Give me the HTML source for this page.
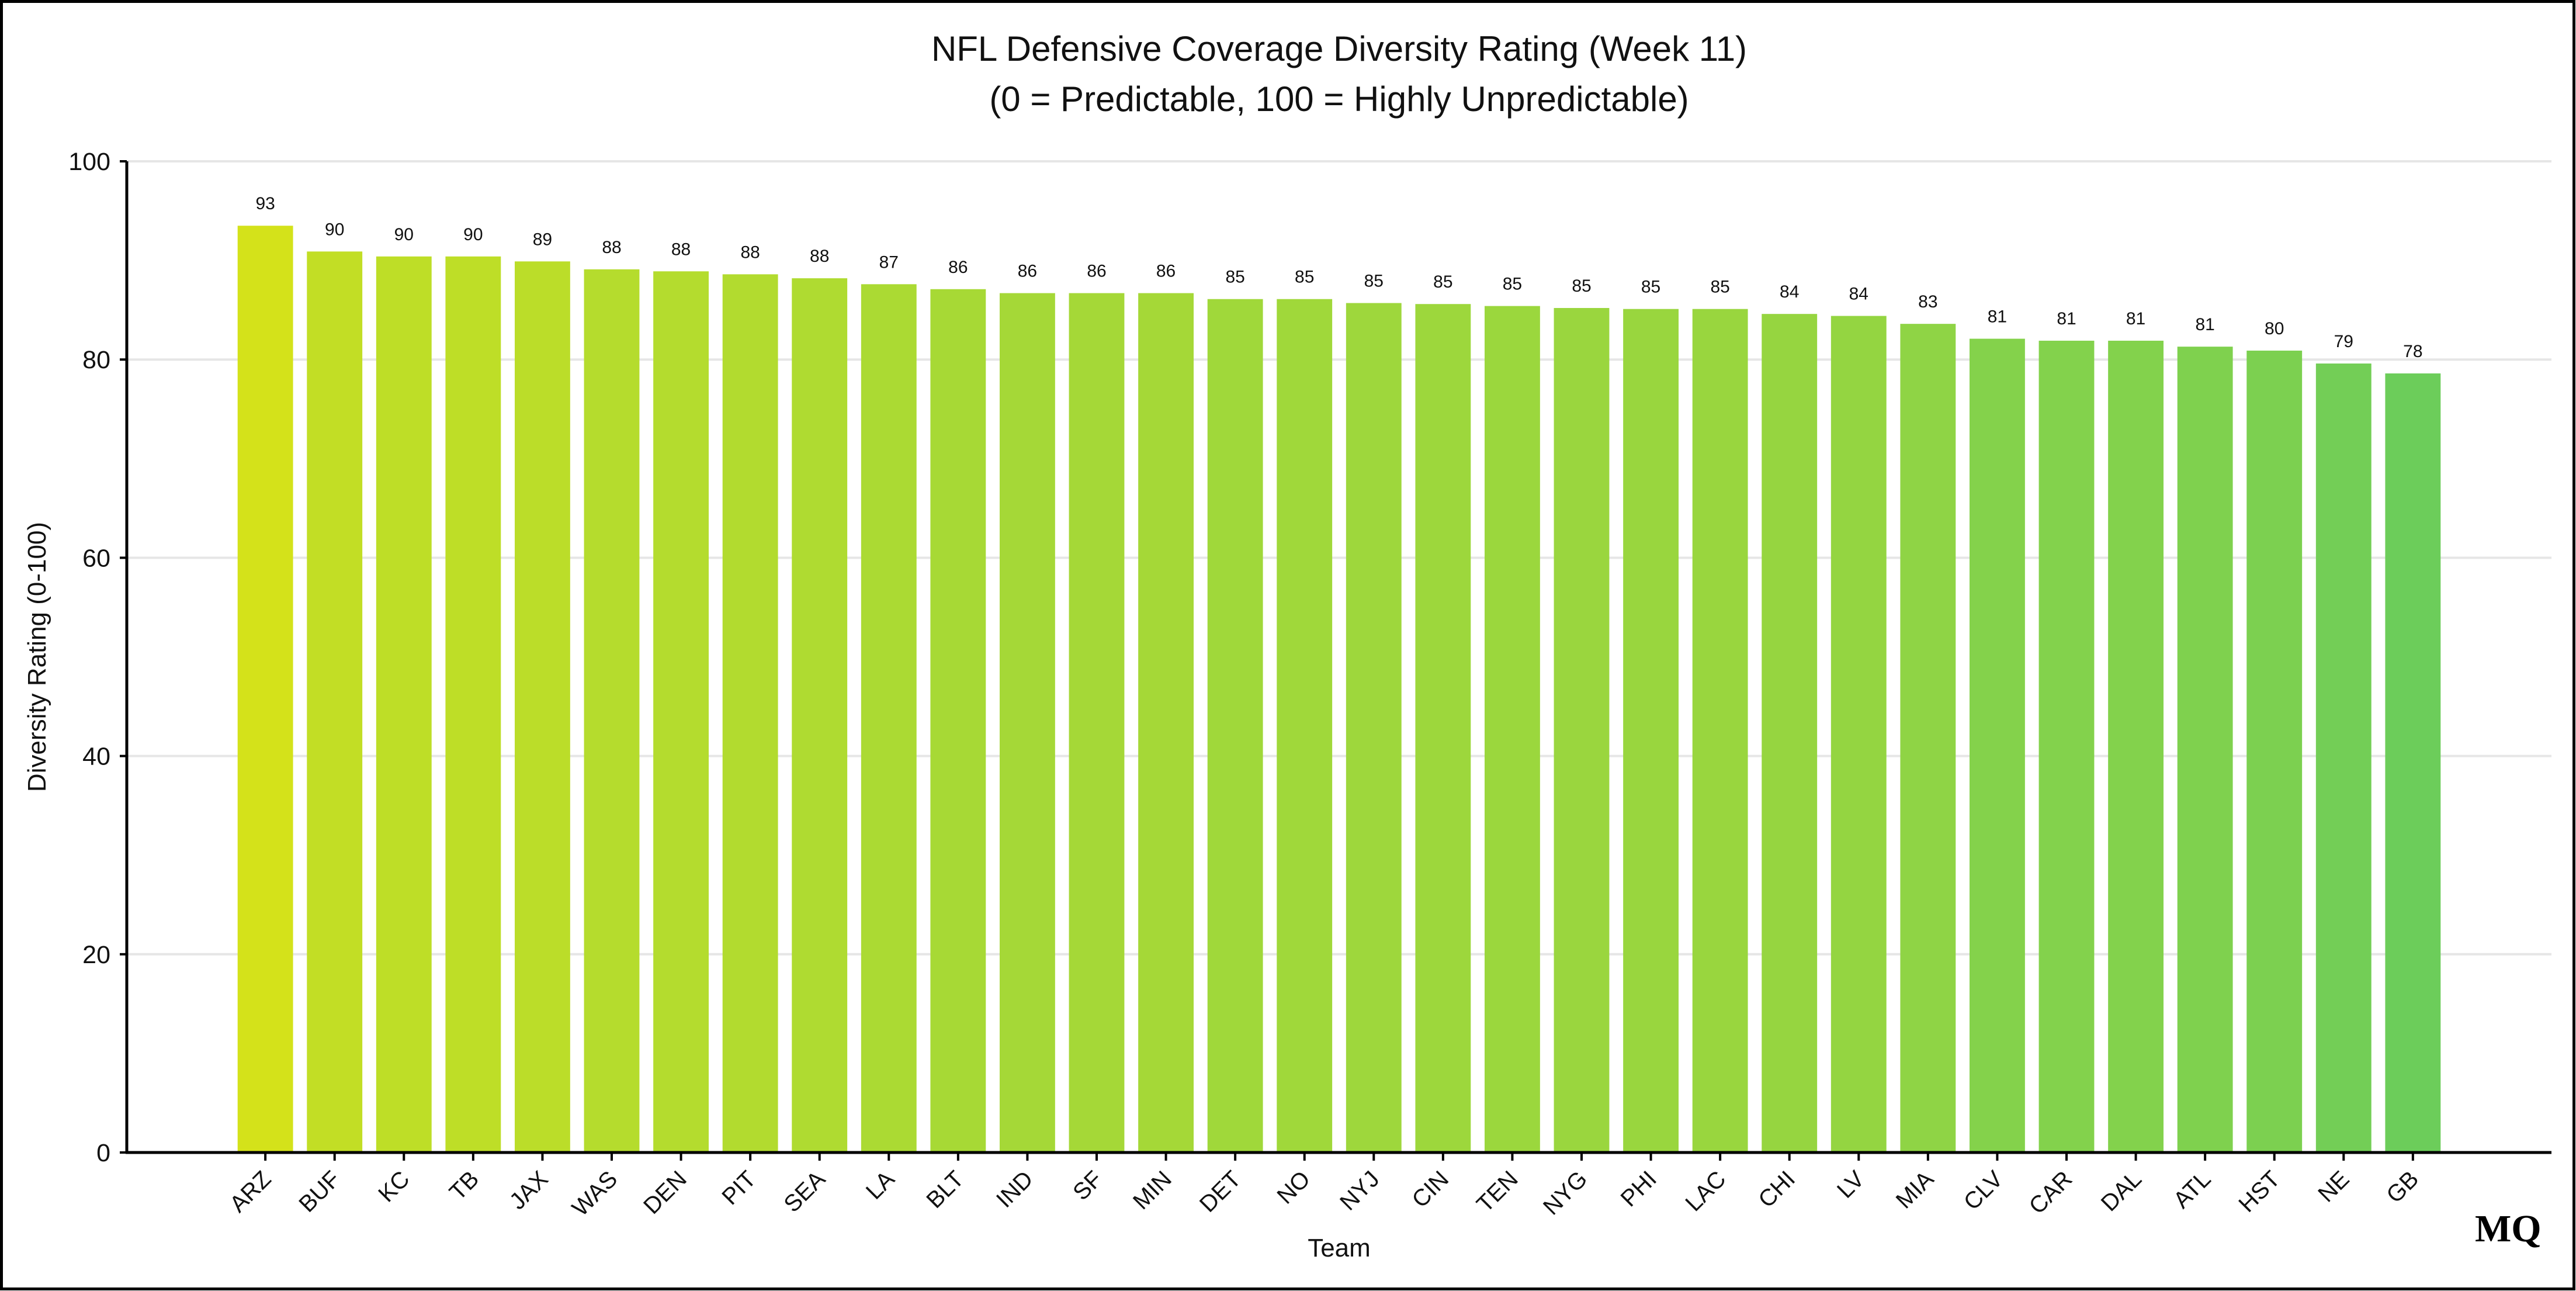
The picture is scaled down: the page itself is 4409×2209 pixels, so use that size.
<!DOCTYPE html>
<html><head><meta charset="utf-8"><style>
html,body{margin:0;padding:0;background:#fff;overflow:hidden;}
svg{display:block;font-family:"Liberation Sans",sans-serif;}
</style></head><body>
<svg id="chart" width="4409" height="2209" viewBox="0 0 4409 2209" xmlns="http://www.w3.org/2000/svg">
<rect x="2.5" y="2.5" width="4403" height="2203" fill="#fff" stroke="#000" stroke-width="5"/>
<text x="2292" y="104" text-anchor="middle" font-size="60" fill="#111">NFL Defensive Coverage Diversity Rating (Week 11)</text>
<text x="2292" y="190" text-anchor="middle" font-size="60" fill="#111">(0 = Predictable, 100 = Highly Unpredictable)</text>
<g id="grid"></g><g id="bars"></g><g id="axes"></g>
<text x="2292" y="2150" text-anchor="middle" font-size="44" fill="#111">Team</text>
<text x="78" y="1124" text-anchor="middle" font-size="44" fill="#111" transform="rotate(-90 78 1124)">Diversity Rating (0-100)</text>
<text x="4236" y="2124" font-family="Liberation Serif,serif" font-weight="bold" font-size="66" fill="#000">MQ</text>
</svg>
<script>
const teams=["ARZ","BUF","KC","TB","JAX","WAS","DEN","PIT","SEA","LA","BLT","IND","SF","MIN","DET","NO","NYJ","CIN","TEN","NYG","PHI","LAC","CHI","LV","MIA","CLV","CAR","DAL","ATL","HST","NE","GB"];
const ratings=[93.5,90.9,90.4,90.4,89.9,89.1,88.9,88.6,88.2,87.6,87.1,86.7,86.7,86.7,86.1,86.1,85.7,85.6,85.4,85.2,85.1,85.1,84.6,84.4,83.6,82.1,81.9,81.9,81.3,80.9,79.6,78.6];
const labels=[93,90,90,90,89,88,88,88,88,87,86,86,86,86,85,85,85,85,85,85,85,85,84,84,83,81,81,81,81,80,79,78];
const yTicks=[0,20,40,60,80,100];

const NS="http://www.w3.org/2000/svg";
const L=217,R=4367,T=276,B=1972;
const xMin=-2,xMax=teams.length+1;
function xs(i){return L+(i-xMin)/(xMax-xMin)*(R-L);}
function ys(v){return B-v/100*(B-T);}
const step=(R-L)/(xMax-xMin),bw=step*0.8;
function mk(tag,attrs,parent){const e=document.createElementNS(NS,tag);for(const k in attrs)e.setAttribute(k,attrs[k]);parent.appendChild(e);return e;}
const grid=document.getElementById('grid'),bars=document.getElementById('bars'),axes=document.getElementById('axes');
const vmax=Math.max(...ratings),vmin=Math.min(...ratings);
function col(v){const t=(vmax-v)/((vmax-vmin)||1);const a=[212,226,26],b=[108,205,90];return `rgb(${a.map((c,k)=>Math.round(c+(b[k]-c)*t)).join(',')})`;}
yTicks.forEach(v=>{
  const g=mk('line',{x1:L,x2:R,y1:ys(v),y2:ys(v),stroke:'#e6e6e6','stroke-width':4},grid);
  
  
  const tk=mk('line',{x1:L-12,x2:L,y1:ys(v),y2:ys(v),stroke:'#000','stroke-width':4},axes);
  
  
  const tl=mk('text',{x:L-28,y:ys(v)+15,'text-anchor':'end','font-size':43,fill:'#111'},axes);
  tl.textContent=v;
  
  
});
teams.forEach((t,i)=>{
  const v=ratings[i],cx=xs(i);
  const r=mk('rect',{x:cx-bw/2,y:ys(v),width:bw,height:B-ys(v),fill:col(v)},bars);
  
  
  const lb=mk('text',{x:cx,y:ys(v)-28,'text-anchor':'middle','font-size':30,fill:'#111'},bars);
  lb.textContent=labels[i];
  
  
  const tk=mk('line',{x1:cx,x2:cx,y1:B,y2:B+14,stroke:'#000','stroke-width':4},axes);
  
  
  const tl=mk('text',{x:cx+12,y:B+48,'text-anchor':'end','font-size':40,fill:'#111',transform:`rotate(-45 ${cx+12} ${B+48})`},axes);
  tl.textContent=t;
  
  
});
const ya=mk('line',{x1:L,x2:L,y1:T,y2:B+2,stroke:'#000','stroke-width':5},axes);


const xa=mk('line',{x1:L-2,x2:R,y1:B,y2:B,stroke:'#000','stroke-width':5},axes);


</script>
</body></html>
